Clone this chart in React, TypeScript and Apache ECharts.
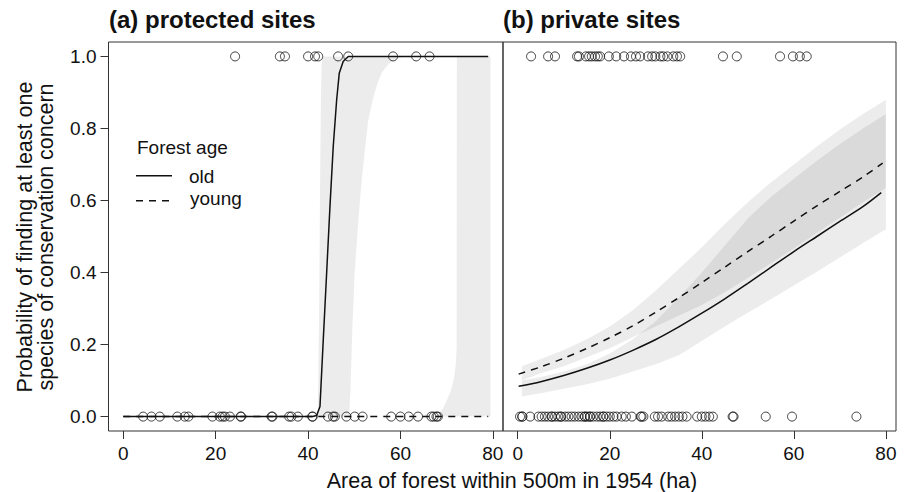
import React, { useEffect, useRef } from 'react';
import * as echarts from 'echarts';

const FONT = "'Liberation Sans', Arial, Helvetica, sans-serif";
const INK = '#111111';
const FRAME = '#333333';
const BAND_FILL = 'rgba(0,0,0,0.075)';

const xTicks = [0, 20, 40, 60, 80];
const yTicks = [0, 0.2, 0.4, 0.6, 0.8, 1.0];

// ---------- (a) protected sites ----------
const protPresentX = [24.2, 33.9, 35.0, 40.0, 41.5, 42.2, 46.5, 48.7, 58.4, 63.4, 66.3];
const protAbsentX = [4.3, 6.1, 7.9, 11.7, 13.3, 14.1, 19.3, 20.9, 21.5, 22.0, 23.1, 25.4, 25.5,
  32.1, 32.3, 35.9, 36.4, 37.8, 40.9, 41.0, 44.3, 45.4, 45.8, 48.3, 50.1, 51.8, 58.0, 60.0,
  61.8, 63.8, 66.7, 67.2, 67.8, 68.1];

const protOldX = [0, 10, 20, 30, 41.0, 41.86, 42.58, 43.29, 44.02, 44.74, 45.45, 46.19, 46.75, 47.6, 48.7, 60, 70, 79];
const protOldP = [0, 0, 0, 0, 0, 0.003, 0.028, 0.213, 0.398, 0.583, 0.75, 0.879, 0.953, 0.986, 1, 1, 1, 1];
const protYoungX = [0, 20, 40, 60, 79];
const protYoungP = [0, 0, 0, 0, 0];

const protOldBandX = [42.1, 42.4, 42.6, 42.8, 43.0, 48.9, 49.2, 49.6, 50.1, 50.8, 51.5, 52.3, 53.0, 54.0, 55.0, 56.0, 57.5, 59.0, 61.0];
const protOldBandHi = [0, 0.3, 0.65, 0.9, 1, 1, 1, 1, 1, 1, 1, 1, 1, 1, 1, 1, 1, 1, 1];
const protOldBandLo = [0, 0, 0, 0, 0, 0, 0.08, 0.25, 0.4, 0.53, 0.64, 0.74, 0.82, 0.88, 0.925, 0.955, 0.98, 0.993, 1];

const protYoungBandX = [67.8, 68.5, 69.3, 70.0, 70.9, 71.6, 72.0, 72.16, 72.2, 79.5];
const protYoungBandHi = [0, 0.01, 0.025, 0.045, 0.071, 0.107, 0.149, 0.194, 1, 1];
const protYoungBandLo = [0, 0, 0, 0, 0, 0, 0, 0, 0, 0];

// ---------- (b) private sites ----------
const privPresentX = [2.9, 6.6, 8.1, 12.9, 13.3, 14.8, 15.5, 16.1, 16.8, 17.4, 17.9, 19.8, 21.4,
  23.1, 24.6, 25.7, 26.6, 28.3, 29.2, 29.9, 31.0, 31.6, 32.5, 33.8, 34.6, 35.3, 44.6, 47.6,
  57.0, 59.8, 61.3, 62.8];
const privAbsentX = [0.5, 1.0, 1.0, 2.7, 4.5, 5.2, 5.9, 6.6, 7.4, 7.4, 8.1, 8.8, 9.4, 9.4, 10.3,
  11.0, 11.7, 12.4, 13.2, 13.9, 14.6, 14.6, 15.1, 15.7, 15.7, 16.4, 17.2, 17.9, 18.6, 18.6,
  19.3, 20.0, 20.8, 21.5, 22.6, 23.5, 24.8, 26.7, 26.9, 27.3, 29.8, 30.5, 31.3, 32.7, 33.4,
  34.2, 35.0, 35.8, 36.7, 39.0, 40.0, 40.8, 41.6, 42.4, 46.7, 46.9, 53.9, 59.6, 73.6];

const privOldX = [0.2, 5, 10, 15, 20, 25, 30, 35, 40, 45, 50, 55, 60, 65, 70, 75, 79];
const privOldP = [0.084, 0.097, 0.114, 0.134, 0.157, 0.184, 0.214, 0.249, 0.287, 0.327, 0.37, 0.414, 0.458, 0.5, 0.542, 0.583, 0.622];
const privYoungX = [0.2, 5, 10, 15, 20, 25, 30, 35, 40, 45, 50, 55, 60, 65, 70, 75, 79.3];
const privYoungP = [0.118, 0.138, 0.162, 0.189, 0.219, 0.252, 0.29, 0.33, 0.372, 0.415, 0.458, 0.5, 0.543, 0.585, 0.625, 0.665, 0.704];

const privBandX = [0.9, 5, 10, 15, 20, 25, 30, 35, 40, 45, 50, 55, 60, 65, 70, 75, 80];
const privOldBandLo = [0.056, 0.065, 0.077, 0.09, 0.105, 0.125, 0.145, 0.17, 0.21, 0.25, 0.288, 0.326, 0.364, 0.402, 0.442, 0.481, 0.52];
const privOldBandHi = [0.1, 0.11, 0.125, 0.145, 0.175, 0.215, 0.265, 0.33, 0.4, 0.475, 0.55, 0.61, 0.66, 0.71, 0.757, 0.8, 0.84];
const privYoungBandLo = [0.1, 0.12, 0.14, 0.165, 0.19, 0.22, 0.25, 0.28, 0.31, 0.345, 0.385, 0.425, 0.467, 0.51, 0.552, 0.595, 0.635];
const privYoungBandHi = [0.14, 0.16, 0.185, 0.215, 0.25, 0.295, 0.35, 0.41, 0.47, 0.535, 0.595, 0.65, 0.7, 0.75, 0.797, 0.84, 0.88];

const zip = (xs: number[], ys: number[]) => xs.map((x, i) => [x, ys[i]]);

function bandSeries(xs: number[], lo: number[], hi: number[], idx: number) {
  return {
    type: 'custom',
    coordinateSystem: 'cartesian2d',
    xAxisIndex: idx,
    yAxisIndex: idx,
    silent: true,
    clip: true,
    z: 1,
    data: [[xs[0], lo[0]]],
    renderItem: (_params: any, api: any) => {
      const pts: number[][] = [];
      for (let i = 0; i < xs.length; i++) pts.push(api.coord([xs[i], hi[i]]));
      for (let i = xs.length - 1; i >= 0; i--) pts.push(api.coord([xs[i], lo[i]]));
      return { type: 'polygon', shape: { points: pts }, style: { fill: BAND_FILL } };
    },
  };
}

function curveSeries(name: string, xs: number[], ys: number[], idx: number, dashed: boolean, smooth: number) {
  return {
    type: 'line',
    name,
    xAxisIndex: idx,
    yAxisIndex: idx,
    data: zip(xs, ys),
    showSymbol: false,
    symbol: 'none',
    smooth,
    silent: true,
    z: 3,
    lineStyle: { color: INK, width: 1.5, type: dashed ? [7, 6] : 'solid' },
  };
}

function pointSeries(xs: number[], yVal: number, idx: number) {
  return {
    type: 'scatter',
    xAxisIndex: idx,
    yAxisIndex: idx,
    data: xs.map((x) => [x, yVal]),
    symbol: 'circle',
    symbolSize: 9,
    silent: true,
    z: 4,
    itemStyle: { color: 'transparent', borderColor: INK, borderWidth: 1 },
  };
}

function xAxisDef(idx: number) {
  return {
    type: 'value',
    gridIndex: idx,
    min: -3.2,
    max: 82.2,
    axisLine: { show: false, onZero: false },
    splitLine: { show: false },
    axisTick: { show: true, length: 8, lineStyle: { color: FRAME, width: 1 }, customValues: xTicks },
    axisLabel: { show: true, customValues: xTicks, fontSize: 19, fontFamily: FONT, color: INK, margin: 13 },
  };
}

function yAxisDef(idx: number, withTicks: boolean) {
  return {
    type: 'value',
    gridIndex: idx,
    min: -0.04,
    max: 1.04,
    axisLine: { show: false, onZero: false },
    splitLine: { show: false },
    axisTick: { show: withTicks, length: 8, lineStyle: { color: FRAME, width: 1 }, customValues: yTicks },
    axisLabel: {
      show: withTicks,
      customValues: yTicks,
      fontSize: 19,
      fontFamily: FONT,
      color: INK,
      margin: 12,
      formatter: (v: number) => v.toFixed(1),
    },
  };
}

function textEl(text: string, x: number, y: number, size: number, opts: any = {}) {
  return {
    type: 'text',
    x,
    y,
    rotation: opts.rotation || 0,
    silent: true,
    style: {
      text,
      fontSize: size,
      fontWeight: opts.bold ? 'bold' : 'normal',
      fontFamily: FONT,
      fill: INK,
      align: opts.align || 'left',
      verticalAlign: 'middle',
    },
  };
}

export default function App() {
  const ref = useRef<HTMLDivElement>(null);
  useEffect(() => {
    if (!ref.current) return;
    const chart = echarts.init(ref.current, undefined, { renderer: 'svg' });
    const option: any = {
      animation: false,
      backgroundColor: '#ffffff',
      grid: [
        { left: 108.5, top: 42, width: 394.5, height: 389, show: true, borderColor: FRAME, borderWidth: 1, backgroundColor: 'transparent' },
        { left: 503, top: 42, width: 393, height: 389, show: true, borderColor: FRAME, borderWidth: 1, backgroundColor: 'transparent' },
      ],
      xAxis: [xAxisDef(0), xAxisDef(1)],
      yAxis: [yAxisDef(0, true), yAxisDef(1, false)],
      series: [
        bandSeries(protOldBandX, protOldBandLo, protOldBandHi, 0),
        bandSeries(protYoungBandX, protYoungBandLo, protYoungBandHi, 0),
        bandSeries(privBandX, privOldBandLo, privOldBandHi, 1),
        bandSeries(privBandX, privYoungBandLo, privYoungBandHi, 1),
        curveSeries('old', protOldX, protOldP, 0, false, 0),
        curveSeries('young', protYoungX, protYoungP, 0, true, 0),
        curveSeries('old', privOldX, privOldP, 1, false, 0.3),
        curveSeries('young', privYoungX, privYoungP, 1, true, 0.3),
        pointSeries(protPresentX, 1, 0),
        pointSeries(protAbsentX, 0, 0),
        pointSeries(privPresentX, 1, 1),
        pointSeries(privAbsentX, 0, 1),
      ],
      graphic: [
        textEl('(a) protected sites', 109, 19.5, 24, { bold: true }),
        textEl('(b) private sites', 503, 19.5, 24, { bold: true }),
        textEl('Area of forest within 500m in 1954 (ha)', 512, 480.5, 21.5, { align: 'center' }),
        textEl('Probability of finding at least one', 24.5, 237, 21.5, { align: 'center', rotation: Math.PI / 2 }),
        textEl('species of conservation concern', 45.5, 237, 21.5, { align: 'center', rotation: Math.PI / 2 }),
        textEl('Forest age', 137, 147.5, 19),
        {
          type: 'line', silent: true,
          shape: { x1: 136, y1: 175.7, x2: 172, y2: 175.7 },
          style: { stroke: INK, lineWidth: 1.5 },
        },
        {
          type: 'line', silent: true,
          shape: { x1: 136, y1: 200.7, x2: 172, y2: 200.7 },
          style: { stroke: INK, lineWidth: 1.5, lineDash: [7, 6] },
        },
        textEl('old', 189, 176.7, 19),
        textEl('young', 190, 198.5, 19),
      ],
    };
    chart.setOption(option);
    return () => chart.dispose();
  }, []);
  return (
    <div
      ref={ref}
      style={{ position: 'fixed', left: 0, top: 0, width: 909, height: 492, background: '#fff' }}
    />
  );
}
